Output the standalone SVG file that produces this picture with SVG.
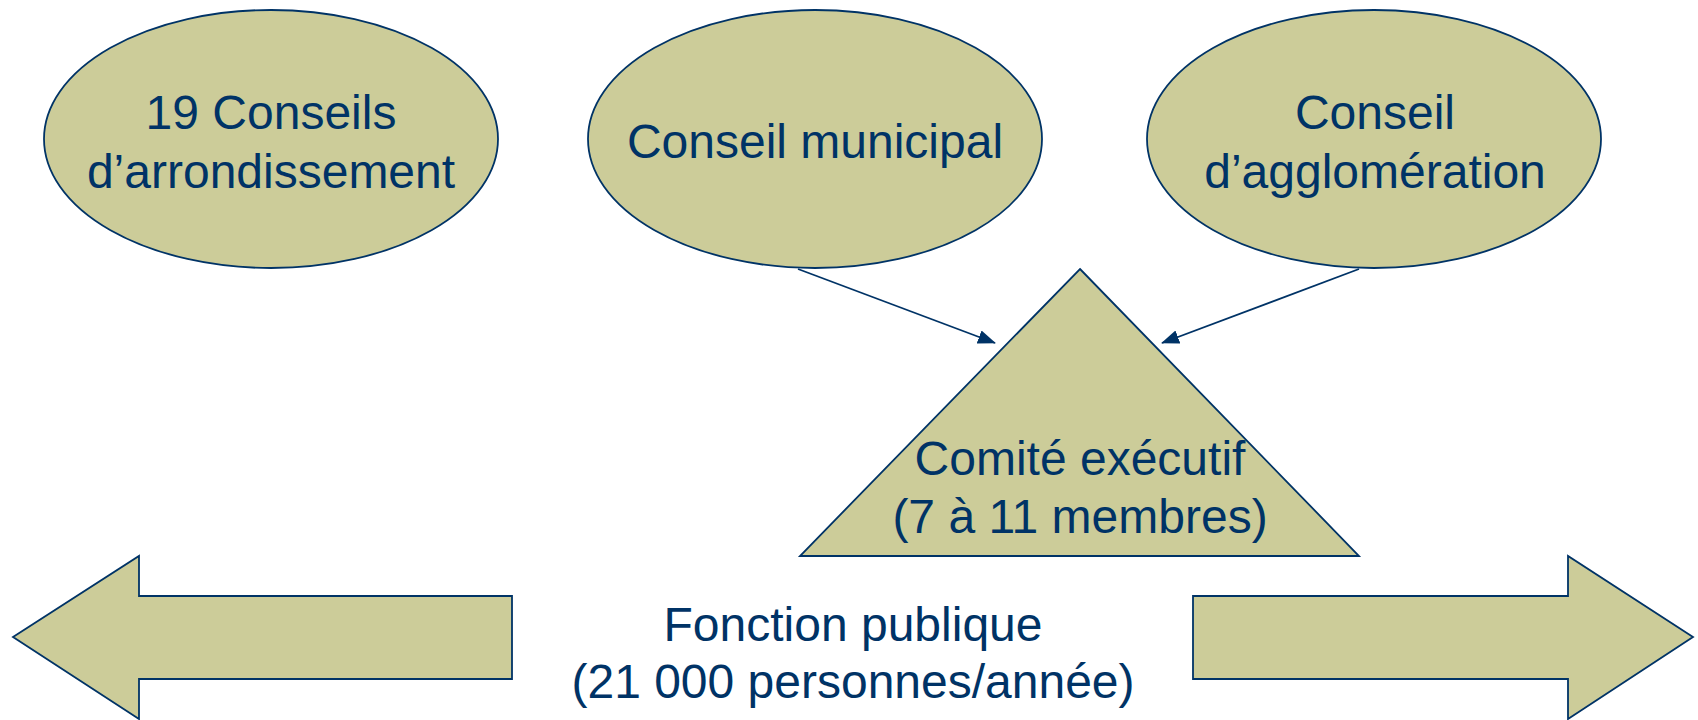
<svg xmlns="http://www.w3.org/2000/svg" width="1698" height="720" viewBox="0 0 1698 720">
<style>
.shape{fill:#CCCC99;stroke:#003366;stroke-width:1.8}
.lbl{font-family:"Liberation Sans",Arial,sans-serif;font-size:48px;fill:#003366;text-anchor:middle}
.conn{stroke:#003366;stroke-width:1.8;fill:none}
</style>
<defs>
<marker id="ah" viewBox="0 0 18 14" refX="17" refY="7" markerWidth="18" markerHeight="14" markerUnits="userSpaceOnUse" orient="auto">
<path d="M0,0 L18,7 L0,14 Z" fill="#003366"/>
</marker>
</defs>
<rect width="1698" height="720" fill="#ffffff"/>
<g id="conseils-arrondissement">
<ellipse class="shape" cx="271" cy="139" rx="227" ry="129"/>
<text class="lbl" x="271" y="129">19 Conseils</text>
<text class="lbl" x="271" y="188">d’arrondissement</text>
</g>
<g id="conseil-municipal">
<ellipse class="shape" cx="815" cy="139" rx="227" ry="129"/>
<text class="lbl" x="815" y="158">Conseil municipal</text>
</g>
<g id="conseil-agglomeration">
<ellipse class="shape" cx="1374" cy="139" rx="227" ry="129"/>
<text class="lbl" x="1375" y="129">Conseil</text>
<text class="lbl" x="1375" y="188">d’agglomération</text>
</g>
<g id="comite-executif">
<polygon class="shape" points="1080,269 1359,556 800,556"/>
<text class="lbl" x="1080" y="475">Comité exécutif</text>
<text class="lbl" x="1080" y="533">(7 à 11 membres)</text>
</g>
<g id="fonction-publique">
<polygon class="shape" points="13,637 139,556 139,596 512,596 512,679 139,679 139,719"/>
<polygon class="shape" points="1693,637 1568,556 1568,596 1193,596 1193,679 1568,679 1568,719"/>
<text class="lbl" x="853" y="641">Fonction publique</text>
<text class="lbl" x="853" y="698">(21 000 personnes/année)</text>
</g>
<g id="connectors">
<line class="conn" x1="798" y1="269" x2="995" y2="343" marker-end="url(#ah)"/>
<line class="conn" x1="1359" y1="269" x2="1162" y2="343" marker-end="url(#ah)"/>
</g>
</svg>
